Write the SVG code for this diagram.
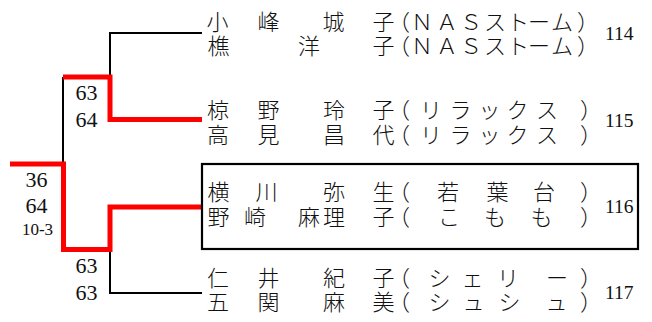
<svg xmlns="http://www.w3.org/2000/svg" width="652" height="322" viewBox="0 0 652 322">
<style>
.nm{font-family:"Noto Sans CJK JP","Noto Sans CJK SC",sans-serif;font-size:22px;font-weight:300;fill:#111}
.sc{font-family:"Liberation Serif",serif;font-size:22px;fill:#111;text-anchor:middle}
.sm{font-size:17px}
.seed{font-family:"Liberation Serif",serif;font-size:19.5px;fill:#111}
.blk{stroke:#000;stroke-width:2;fill:none}
.red{stroke:#ff0000;stroke-width:5;fill:none;stroke-linejoin:miter}
.box{stroke:#000;stroke-width:2.2;fill:none}
</style>
<rect width="652" height="322" fill="#fff"/>
<g id="connectors">
<path class="blk" d="M202,33 H110 V77"/>
<path class="blk" d="M63,77 V164"/>
<path class="blk" d="M110,249 V293 H202"/>
<path class="red" d="M63,77 H110 V119.5 H202"/>
<path class="red" d="M10,164 H63.5 V249.5 H110 V207 H202"/>
</g>
<g id="scores">
<text class="sc" x="86.5" y="100">63</text>
<text class="sc" x="86.5" y="127">64</text>
<text class="sc" x="36.5" y="187">36</text>
<text class="sc" x="36.5" y="213">64</text>
<text class="sc sm" x="37.5" y="235">10-3</text>
<text class="sc" x="86.5" y="273">63</text>
<text class="sc" x="86.5" y="300">63</text>
</g>
<g id="entry114">
<text class="nm"><tspan x="206.5 257.5 322.5 372.5 388 411 436 460 484 507 528 551 577" y="30">小峰城子（ＮＡＳストーム）</tspan><tspan x="207.5 298 372.5 388 411 436 460 484 507 528 551 577" y="54">樵洋子（ＮＡＳストーム）</tspan></text>
<text class="seed" x="605" y="40">114</text>
</g>
<g id="entry115">
<text class="nm"><tspan x="207 257.5 323 372.5 388 420 449.5 478.5 506.5 536 580" y="118">椋野玲子（リラックス）</tspan><tspan x="207 257.5 323 372.5 388 420 449.5 478.5 506.5 536 580" y="143">高見昌代（リラックス）</tspan></text>
<text class="seed" x="605" y="127">115</text>
</g>
<g id="entry116">
<rect class="box" x="202" y="164" width="436" height="85"/>
<text class="nm"><tspan x="207.5 255.5 323 372.5 388 437 486.5 533 580" y="200">横川弥生（若葉台）</tspan><tspan x="207.5 244 298 323 372.5 388 438 484 530.5 580" y="225">野崎麻理子（こもも）</tspan></text>
<text class="seed" x="605" y="213">116</text>
</g>
<g id="entry117">
<text class="nm"><tspan x="207 257.5 323 372.5 388 428.5 461.5 497 546 580" y="286">仁井紀子（シェリー）</tspan><tspan x="207 257.5 323 372.5 388 428.5 462.5 498.5 545.5 580" y="310">五関麻美（シュシュ）</tspan></text>
<text class="seed" x="605" y="299">117</text>
</g>
</svg>
